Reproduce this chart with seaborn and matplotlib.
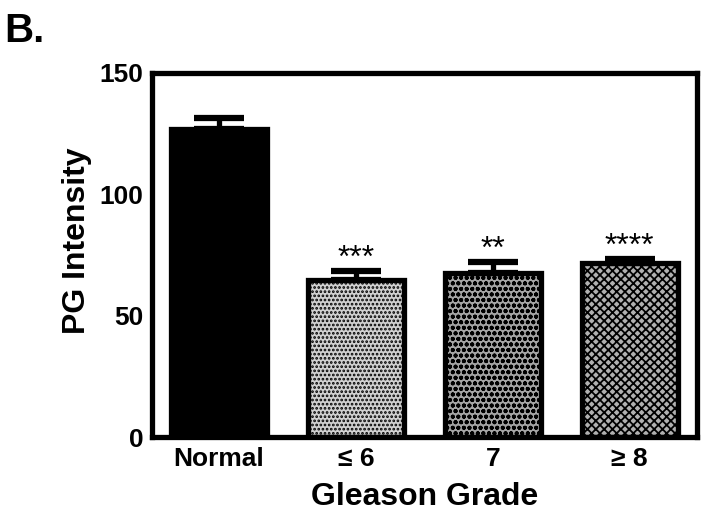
import numpy as np
import pandas as pd
import matplotlib
matplotlib.use("Agg")
import matplotlib.pyplot as plt
import seaborn as sns

groups = ["Normal", "≤ 6", "7", "≥ 8"]
means = [127, 64.5, 67.5, 71.5]
sems = [4.5, 4, 4.5, 2]
stars = ["", "***", "**", "****"]
face_colors = ["#000000", "#d0d0d0", "#a4a4a4", "#b0b0b0"]
hatches = [None, "....", "ooo", "xxxx"]

sns.set_style("white")
plt.rcParams["font.family"] = ["Liberation Sans", "DejaVu Sans"]
plt.rcParams["hatch.linewidth"] = 1.3
plt.rcParams["text.color"] = "black"
plt.rcParams["axes.labelcolor"] = "black"
plt.rcParams["xtick.color"] = "black"
plt.rcParams["ytick.color"] = "black"

df = pd.DataFrame({"grade": groups, "intensity": means})

fig = plt.figure(figsize=(7.03, 5.16), dpi=100)
ax = fig.add_axes([0.216, 0.153, 0.775, 0.706])

sns.barplot(data=df, x="grade", y="intensity", hue="grade", palette=face_colors,
            legend=False, width=0.7, edgecolor="black", linewidth=3.8,
            saturation=1, ax=ax)
for patch, h in zip(ax.patches, hatches):
    if h:
        patch.set_hatch(h)

xpos = np.arange(len(groups))
ax.errorbar(xpos, means, yerr=[np.zeros(len(sems)), sems], fmt="none",
            ecolor="black", elinewidth=3.8, capsize=18, capthick=4.5, zorder=5)
for x, m, s, t in zip(xpos, means, sems, stars):
    if t:
        ax.text(x, m + s - 1.2, t, ha="center", va="bottom", fontsize=23)

ax.set_xlim(-0.49, 3.49)
ax.set_ylim(0, 150)
ax.set_yticks([0, 50, 100, 150])
for sp in ax.spines.values():
    sp.set_linewidth(3.8)
    sp.set_color("black")
ax.tick_params(axis="both", direction="out", length=4, width=3, color="black",
               labelsize=19, pad=2)
ax.tick_params(axis="x", pad=3)
for lab in ax.get_xticklabels() + ax.get_yticklabels():
    lab.set_fontweight("bold")
ax.set_xlabel("Gleason Grade", fontsize=23, fontweight="bold", labelpad=8)
ax.set_ylabel("PG Intensity", fontsize=23, fontweight="bold")
ax.yaxis.set_label_coords(-0.11, 0.54)

fig.text(0.006, 0.918, "B.", fontsize=29, fontweight="bold", va="baseline")

fig.savefig("out.png", dpi=100)
